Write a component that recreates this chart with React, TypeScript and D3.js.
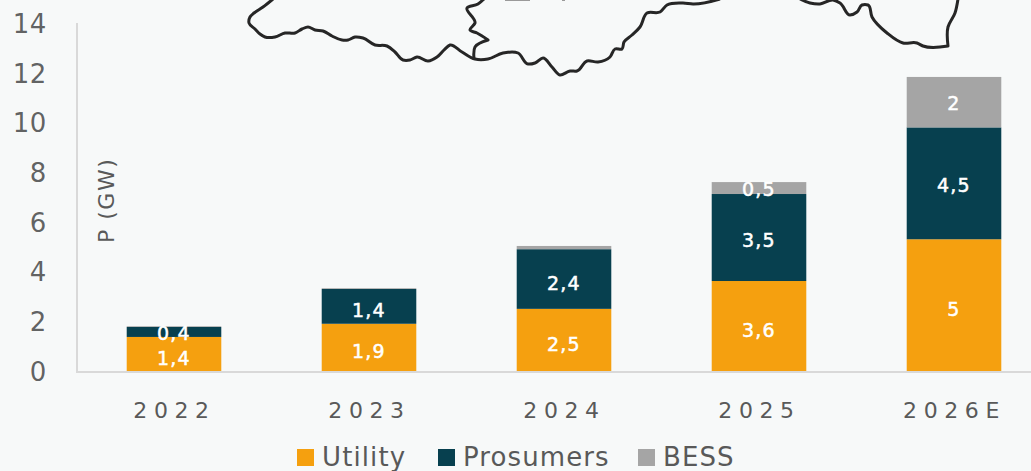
import React from "react";
import * as d3 from "d3";

const years = ["2022", "2023", "2024", "2025", "2026E"];
const utility = [1.37, 1.9, 2.5, 3.62, 5.3];
const prosumers = [0.4, 1.4, 2.4, 3.5, 4.5];
const bess = [0.03, 0.03, 0.13, 0.48, 2.03];
const utilityLabels = ["1,4", "1,9", "2,5", "3,6", "5"];
const prosumerLabels = ["0,4", "1,4", "2,4", "3,5", "4,5"];
const bessLabels = ["", "", "", "0,5", "2"];
const yTicks = [0, 2, 4, 6, 8, 10, 12, 14];
const seriesNames = ["Utility", "Prosumers", "BESS"];
const seriesColors = ["#f5a00f", "#07404f", "#a5a5a5"];

const outlineMain: [number, number][] = [
  [273, -1], [263, 7], [254, 13], [250, 17], [249, 23], [255, 29], [260, 34], [265, 37], [275, 37], [285, 33], [295, 33],
  [302, 29], [308, 27], [315, 30], [323, 31], [332, 36], [342, 40], [348, 40], [355, 37], [363, 38], [375, 45], [387, 46],
  [395, 52], [403, 60], [410, 60], [417, 57], [428, 61], [437, 57], [444, 50], [450, 45], [462, 52], [475, 59], [488, 59],
  [503, 53], [518, 53], [528, 64], [535, 63], [543, 58], [552, 67], [560, 75], [570, 71], [577, 71], [587, 61], [598, 62],
  [610, 57], [615, 49], [622, 49], [624, 42], [632, 35], [640, 27], [647, 13], [660, 12], [667, 5], [683, 3], [693, 4], [720, -1],
];
const outlineEast: [number, number][] = [
  [800, -1], [810, 3], [820, 4], [833, 0], [840, 3], [850, 15], [857, 12], [862, 5], [868, 5], [872, 17], [887, 33],
  [903, 43], [917, 43], [923, 46], [948, 46], [948, 46], [948, 27], [955, 13], [958, -1],
];
const outlineBranch: [number, number][] = [
  [474, 59], [475, 47], [488, 40], [488, 40], [477, 33], [470, 30], [475, 23], [467, 8], [478, 4], [484, -1],
];

const W = 1031;
const H = 471;
const FONT = "'DejaVu Sans', sans-serif";

const utilityOffsets = [4, 4, 4, 4, 4];
const prosumerOffsets = [1, 4, 4, 3, 2];
const bessOffsets = [0, 0, 0, 1, 1];

export default function App() {
  const x = d3.scaleBand<string>().domain(years).range([76.5, 1051.5]).paddingInner(0.515).paddingOuter(0.2575);
  const y = d3.scaleLinear().domain([0, 14]).range([371, 23]);
  const stackRows = years.map((_, i) => ({ key: i, Utility: utility[i], Prosumers: prosumers[i], BESS: bess[i] }));
  const series = d3.stack<any>().keys(seriesNames)(stackRows);
  const labels = [utilityLabels, prosumerLabels, bessLabels];
  const offsets = [utilityOffsets, prosumerOffsets, bessOffsets];
  const outline = d3.line().curve(d3.curveCatmullRom.alpha(1));
  const legendX = [297, 438, 638];

  return (
    <svg width={W} height={H} viewBox={`0 0 ${W} ${H}`}
      style={{ position: "absolute", left: 0, top: 0, background: "#f7f9f9", fontFamily: FONT }}>
      <defs>
        <filter id="soft"><feGaussianBlur stdDeviation="0.5" /></filter>
      </defs>
      <g fill="none" stroke="#262626" strokeWidth={3} strokeLinejoin="round" filter="url(#soft)">
        <path d={outline(outlineMain) ?? ""} />
        <path d={outline(outlineEast) ?? ""} />
        <path d={outline(outlineBranch) ?? ""} />
      </g>
      <path d="M505,0.5H530M562,0.5H565" stroke="#9a9a9a" strokeWidth={1.2} fill="none" />
      <path d={`M77,${y(14)}V${y(0) + 1}H${W}`} fill="none" stroke="#d9d9d9" strokeWidth={2} />
      {yTicks.map((t) => (
        <text key={t} x={47} y={y(t)} dy="0.38em" textAnchor="end" fontSize={26} letterSpacing={0.6} fill="#595959" fillOpacity={0.95}>{t}</text>
      ))}
      <text x={0} y={0} transform="translate(114,243) rotate(-90)" fontSize={22} letterSpacing={1.5} fill="#595959">P (GW)</text>
      {series.map((s, si) => (
        <g key={s.key}>
          {s.map((d, i) => (
            <rect key={i} x={x(years[i])} width={x.bandwidth()} y={y(d[1])} height={y(d[0]) - y(d[1])} fill={seriesColors[si]} />
          ))}
        </g>
      ))}
      {series.map((s, si) => s.map((d, i) => labels[si][i] ? (
        <text key={`${si}-${i}`} x={x(years[i])! + x.bandwidth() / 2} y={y((d[0] + d[1]) / 2) + offsets[si][i]} dy="0.36em"
          textAnchor="middle" fontSize={19} letterSpacing={1.2} fill="#fff" stroke="#fff" strokeWidth={0.5}>{labels[si][i]}</text>
      ) : null))}
      {years.map((yr) => (
        <text key={yr} x={x(yr)! + x.bandwidth() / 2 + 0.5} y={418} textAnchor="middle"
          fontSize={22} letterSpacing={6.6} fill="#595959">{yr}</text>
      ))}
      {seriesNames.map((n, i) => (
        <g key={n}>
          <rect x={legendX[i]} y={449} width={17} height={17} fill={seriesColors[i]} />
          <text x={legendX[i] + 25} y={466} fontSize={26} letterSpacing={1.1} fill="#595959">{n}</text>
        </g>
      ))}
    </svg>
  );
}
